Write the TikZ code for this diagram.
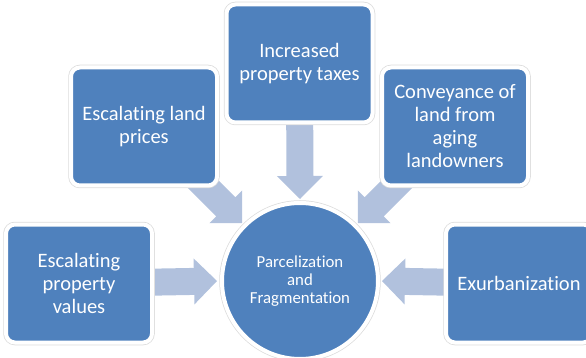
\documentclass[tikz,border=0pt]{standalone}
\usepackage{fontspec}
\setmainfont{Carlito}[Ligatures=NoCommon]
\usetikzlibrary{calc}
\definecolor{boxblue}{RGB}{79,129,189}
\definecolor{arrowcol}{RGB}{177,193,221}
\definecolor{haloline}{RGB}{220,220,220}
\pgfdeclarelayer{bg}
\pgfsetlayers{bg,main}
\newcommand\blockarr[2]{%
  \coordinate (ba-s) at (#1);
  \coordinate (ba-t) at (#2);
  \coordinate (ba-b) at ($(ba-t)!23pt!(ba-s)$);
  \fill[arrowcol] ($(ba-s)!13.5pt!90:(ba-t)$) -- ($(ba-b)!13.5pt!-90:(ba-s)$)
    -- ($(ba-b)!23pt!-90:(ba-s)$) -- (ba-t) -- ($(ba-b)!23pt!90:(ba-s)$)
    -- ($(ba-b)!13.5pt!90:(ba-s)$) -- ($(ba-s)!13.5pt!-90:(ba-t)$) -- cycle;}
\tikzset{
  halo/.style={fill=boxblue, draw=white, line width=4pt,
    preaction={draw=haloline, line width=5.5pt},
    text=white, align=center, inner sep=0pt, outer sep=0pt},
  box/.style={halo, rectangle, rounded corners=9pt,
    minimum width=146pt, minimum height=118pt,
    font=\fontsize{20.5}{23}\selectfont},
  hub/.style={halo, circle, minimum size=156pt,
    font=\fontsize{16.8}{18}\selectfont}
}
\begin{document}
\begin{tikzpicture}[x=1pt, y=-1pt]
\useasboundingbox (0,0) rectangle (586,358);
\node[box] (top) at (299.5,63.5) {Increased\\property taxes};
\node[box] (ul) at (144,126.5) {Escalating land\\prices};
\node[box] (ur) at (455,126.5) {Conveyance of\\land from\\aging\\landowners};
\node[box] (ll) at (79,283.5) {Escalating\\property\\values};
\node[box] (lr) at (519,283.5) {Exurbanization};
\node[hub] (c) at (300,281) {Parcelization\\and\\Fragmentation};
\begin{pgfonlayer}{bg}
  \coordinate (tipT) at ($(c.north)+(0,-4)$);
  \coordinate (tipL) at ($(c.west)+(-5,0)$);
  \coordinate (tipR) at ($(c.east)+(4,0)$);
  \coordinate (tipUL) at ($(c.center)!82pt!(c.north west)$);
  \coordinate (tipUR) at ($(c.center)!82pt!(c.north east)$);
  \coordinate (srcUL) at ($(c.center)!200pt!(c.north west)$);
  \coordinate (srcUR) at ($(c.center)!200pt!(c.north east)$);
  \blockarr{top.center}{tipT}
  \blockarr{ll.center}{tipL}
  \blockarr{lr.center}{tipR}
  \blockarr{srcUL}{tipUL}
  \blockarr{srcUR}{tipUR}
\end{pgfonlayer}
\end{tikzpicture}
\end{document}
